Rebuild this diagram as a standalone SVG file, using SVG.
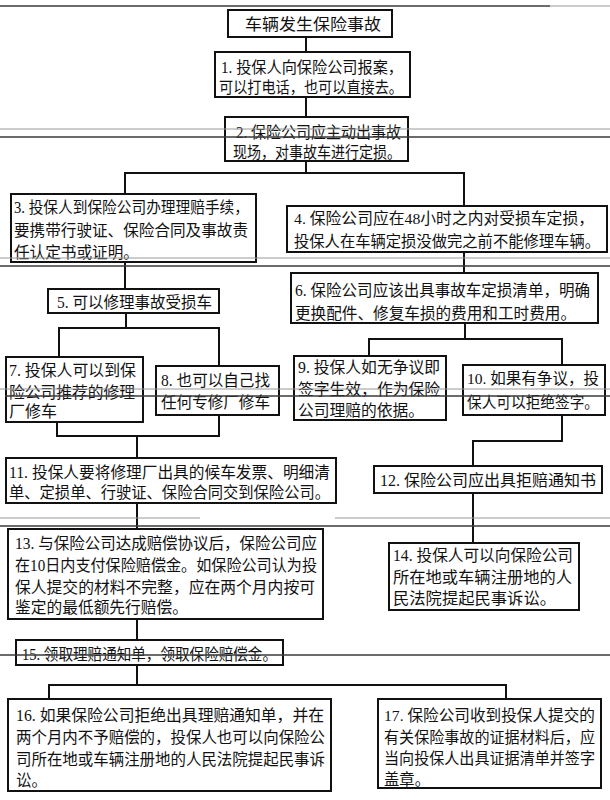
<svg xmlns="http://www.w3.org/2000/svg" width="610" height="800" viewBox="0 0 610 800">
<style>
.bg{fill:#fff}
.box{fill:#fff;stroke:#111;stroke-width:2}
.t{font-family:"Liberation Serif","Noto Sans CJK SC",serif;font-size:16px;fill:#111}
.s{font-size:15.5px}
.c{stroke:#111;stroke-width:2;fill:none}
.sd{stroke:#3a3a3a;stroke-width:1.6}
.sl{stroke:#9a9a9a;stroke-width:1.2}
</style>
<rect class="bg" x="0" y="0" width="610" height="800"/>
<g id="connectors">
<path class="c" d="M306 37V52"/>
<path class="c" d="M306 97V117"/>
<path class="c" d="M306 161V173M125 194V173H464V206"/>
<path class="c" d="M125 262V289"/>
<path class="c" d="M464 252V273"/>
<path class="c" d="M126 313V328M59 357V328H219V366"/>
<path class="c" d="M465 323V339M369 356V339H562V365"/>
<path class="c" d="M57 422V436H219V415M137 436V458"/>
<path class="c" d="M562 415V441H473V466"/>
<path class="c" d="M137 503V529"/>
<path class="c" d="M473 493V543"/>
<path class="c" d="M137 619V640"/>
<path class="c" d="M137 665V685M49 699V685H506V699"/>
</g>
<g id="n0"><rect class="box" x="228" y="10" width="164" height="27"/><text class="t" x="245" y="30" font-size="18" textLength="136" lengthAdjust="spacingAndGlyphs">车辆发生保险事故</text></g>
<g id="n1"><rect class="box" x="215" y="52" width="195" height="45"/>
<text class="t" x="221" y="73" textLength="182" lengthAdjust="spacingAndGlyphs">1. 投保人向保险公司报案，</text>
<text class="t" x="219" y="93" textLength="184" lengthAdjust="spacingAndGlyphs">可以打电话，也可以直接去。</text></g>
<g id="n2"><rect class="box" x="225" y="117" width="183" height="44"/>
<text class="t" x="236" y="138" textLength="165" lengthAdjust="spacingAndGlyphs">2. 保险公司应主动出事故</text>
<text class="t" x="233" y="158" textLength="168" lengthAdjust="spacingAndGlyphs">现场，对事故车进行定损。</text></g>
<g id="n3"><rect class="box" x="11" y="194" width="245" height="68"/>
<text class="t" x="14" y="213" textLength="235" lengthAdjust="spacingAndGlyphs">3. 投保人到保险公司办理理赔手续，</text>
<text class="t" x="14" y="236" textLength="234" lengthAdjust="spacingAndGlyphs">要携带行驶证、保险合同及事故责</text>
<text class="t" x="14" y="258" textLength="125" lengthAdjust="spacingAndGlyphs">任认定书或证明。</text></g>
<g id="n4"><rect class="box" x="287" y="206" width="320" height="46"/>
<text class="t s" x="294" y="224" textLength="300" lengthAdjust="spacingAndGlyphs">4. 保险公司应在48小时之内对受损车定损，</text>
<text class="t s" x="294" y="247" textLength="306" lengthAdjust="spacingAndGlyphs">投保人在车辆定损没做完之前不能修理车辆。</text></g>
<g id="n5"><rect class="box" x="48" y="289" width="171" height="24"/>
<text class="t" x="57" y="308" textLength="155" lengthAdjust="spacingAndGlyphs">5. 可以修理事故受损车</text></g>
<g id="n6"><rect class="box" x="291" y="273" width="307" height="50"/>
<text class="t" x="295" y="296" textLength="295" lengthAdjust="spacingAndGlyphs">6. 保险公司应该出具事故车定损清单，明确</text>
<text class="t" x="295" y="319" textLength="281" lengthAdjust="spacingAndGlyphs">更换配件、修复车损的费用和工时费用。</text></g>
<g id="n7"><rect class="box" x="6" y="357" width="137" height="65"/>
<text class="t" x="9" y="376" textLength="127" lengthAdjust="spacingAndGlyphs">7. 投保人可以到保</text>
<text class="t" x="9" y="398" textLength="126" lengthAdjust="spacingAndGlyphs">险公司推荐的修理</text>
<text class="t" x="9" y="417" textLength="48" lengthAdjust="spacingAndGlyphs">厂修车</text></g>
<g id="n8"><rect class="box" x="156" y="366" width="123" height="49"/>
<text class="t" x="161" y="386" textLength="109" lengthAdjust="spacingAndGlyphs">8. 也可以自己找</text>
<text class="t" x="161" y="408" textLength="109" lengthAdjust="spacingAndGlyphs">任何专修厂修车</text></g>
<g id="n9"><rect class="box" x="294" y="356" width="152" height="64"/>
<text class="t" x="298" y="373" textLength="142" lengthAdjust="spacingAndGlyphs">9. 投保人如无争议即</text>
<text class="t" x="298" y="395" textLength="142" lengthAdjust="spacingAndGlyphs">签字生效，作为保险</text>
<text class="t" x="298" y="416" textLength="126" lengthAdjust="spacingAndGlyphs">公司理赔的依据。</text></g>
<g id="n10"><rect class="box" x="463" y="365" width="142" height="50"/>
<text class="t s" x="467" y="384" textLength="132" lengthAdjust="spacingAndGlyphs">10. 如果有争议，投</text>
<text class="t s" x="467" y="408" textLength="132" lengthAdjust="spacingAndGlyphs">保人可以拒绝签字。</text></g>
<g id="n11"><rect class="box" x="6" y="458" width="330" height="45"/>
<text class="t" x="9" y="478" textLength="321" lengthAdjust="spacingAndGlyphs">11. 投保人要将修理厂出具的候车发票、明细清</text>
<text class="t" x="9" y="498" textLength="321" lengthAdjust="spacingAndGlyphs">单、定损单、行驶证、保险合同交到保险公司。</text></g>
<g id="n12"><rect class="box" x="374" y="466" width="228" height="27"/>
<text class="t" x="380" y="486" textLength="216" lengthAdjust="spacingAndGlyphs">12. 保险公司应出具拒赔通知书</text></g>
<g id="n13"><rect class="box" x="8" y="529" width="315" height="90"/>
<text class="t" x="15" y="549" textLength="302" lengthAdjust="spacingAndGlyphs">13. 与保险公司达成赔偿协议后，保险公司应</text>
<text class="t" x="15" y="571" textLength="302" lengthAdjust="spacingAndGlyphs">在10日内支付保险赔偿金。如保险公司认为投</text>
<text class="t" x="15" y="593" textLength="300" lengthAdjust="spacingAndGlyphs">保人提交的材料不完整，应在两个月内按可</text>
<text class="t" x="15" y="613" textLength="173" lengthAdjust="spacingAndGlyphs">鉴定的最低额先行赔偿。</text></g>
<g id="n14"><rect class="box" x="389" y="543" width="190" height="67"/>
<text class="t" x="393" y="561" textLength="180" lengthAdjust="spacingAndGlyphs">14. 投保人可以向保险公司</text>
<text class="t" x="393" y="583" textLength="179" lengthAdjust="spacingAndGlyphs">所在地或车辆注册地的人</text>
<text class="t" x="393" y="604" textLength="163" lengthAdjust="spacingAndGlyphs">民法院提起民事诉讼。</text></g>
<g id="n15"><rect class="box" x="16" y="640" width="267" height="25"/>
<text class="t" x="22" y="660" textLength="255" lengthAdjust="spacingAndGlyphs">15. 领取理赔通知单，领取保险赔偿金。</text></g>
<g id="n16"><rect class="box" x="8" y="699" width="323" height="92"/>
<text class="t" x="16" y="721" textLength="308" lengthAdjust="spacingAndGlyphs">16. 如果保险公司拒绝出具理赔通知单，并在</text>
<text class="t" x="16" y="743" textLength="309" lengthAdjust="spacingAndGlyphs">两个月内不予赔偿的，投保人也可以向保险公</text>
<text class="t" x="16" y="765" textLength="309" lengthAdjust="spacingAndGlyphs">司所在地或车辆注册地的人民法院提起民事诉</text>
<text class="t" x="16" y="786" textLength="31" lengthAdjust="spacingAndGlyphs">讼。</text></g>
<g id="n17"><rect class="box" x="378" y="699" width="223" height="89"/>
<text class="t s" x="384" y="721" textLength="211" lengthAdjust="spacingAndGlyphs">17. 保险公司收到投保人提交的</text>
<text class="t s" x="384" y="743" textLength="211" lengthAdjust="spacingAndGlyphs">有关保险事故的证据材料后，应</text>
<text class="t s" x="384" y="764" textLength="211" lengthAdjust="spacingAndGlyphs">当向投保人出具证据清单并签字</text>
<text class="t s" x="384" y="785" textLength="46" lengthAdjust="spacingAndGlyphs">盖章。</text></g>
<g id="scan-lines">
<path class="sd" d="M0 6H550"/>
<path class="sl" d="M550 6H610"/>
<path class="sl" d="M0 129H610"/>
<path class="sd" d="M0 137H610"/>
<path class="sl" d="M0 258H610"/>
<path class="sd" d="M0 266H610"/>
<path class="sl" d="M0 389H610"/>
<path class="sd" d="M5 396H610"/>
<path class="sl" d="M0 518H200M335 518H610"/>
<path class="sd" d="M0 526H610"/>
<path class="sd" d="M0 655H610"/>
</g>
</svg>
